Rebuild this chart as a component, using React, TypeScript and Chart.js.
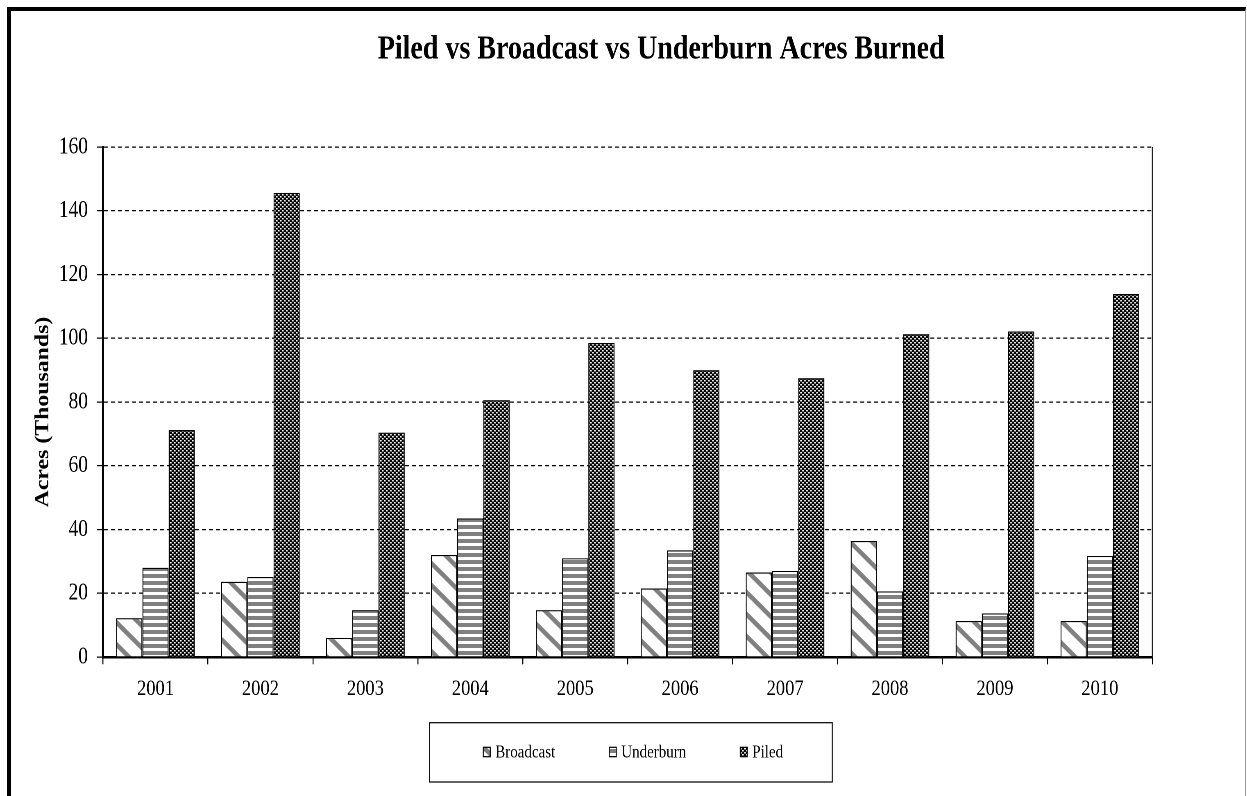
import React, { useEffect, useRef } from 'react';
import { Chart, registerables } from 'chart.js';

Chart.register(...registerables);

// ---- data ----
const years = ['2001', '2002', '2003', '2004', '2005', '2006', '2007', '2008', '2009', '2010'];
const broadcast = [12.2, 23.6, 6.0, 32.0, 14.7, 21.5, 26.5, 36.4, 11.3, 11.3];
const underburn = [28.0, 25.1, 14.7, 43.5, 31.0, 33.5, 27.0, 20.6, 13.7, 31.7];
const piled = [71.2, 145.6, 70.4, 80.6, 98.5, 90.0, 87.5, 101.3, 102.1, 113.9];
const seriesLabels = ['Broadcast', 'Underburn', 'Piled'];
const yMin = 0;
const yMax = 160;
const yStep = 20;
const chartTitle = 'Piled vs Broadcast vs Underburn Acres Burned';
const yAxisTitle = 'Acres (Thousands)';

// ---- geometry (the original picture is stretched vertically) ----
const W = 1247;
const H_DISPLAY = 796;
const H = 652;
const S = H_DISPLAY / H;
const FONT = '"Liberation Serif", "Times New Roman", serif';

function finishPattern(c: HTMLCanvasElement): CanvasPattern | string {
  const ctx = c.getContext('2d');
  if (!ctx) return '#888';
  const p = ctx.createPattern(c, 'repeat');
  if (!p) return '#888';
  try {
    p.setTransform(new DOMMatrix([0.5, 0, 0, 0.5 / S, 0, 0]));
  } catch (e) {
    /* ignore */
  }
  return p;
}

function diagonalPattern() {
  const c = document.createElement('canvas');
  const n = 44;
  c.width = n;
  c.height = n;
  const ctx = c.getContext('2d')!;
  ctx.fillStyle = '#ffffff';
  ctx.fillRect(0, 0, n, n);
  ctx.strokeStyle = '#808080';
  ctx.lineWidth = 9;
  for (const x0 of [-n, 0, n]) {
    ctx.beginPath();
    ctx.moveTo(x0 - 4, -4);
    ctx.lineTo(x0 + n + 4, n + 4);
    ctx.stroke();
  }
  return finishPattern(c);
}

function horizontalPattern() {
  const c = document.createElement('canvas');
  c.width = 4;
  c.height = 14;
  const ctx = c.getContext('2d')!;
  ctx.fillStyle = '#ffffff';
  ctx.fillRect(0, 0, 4, 14);
  ctx.fillStyle = '#808080';
  ctx.fillRect(0, 0, 4, 8);
  return finishPattern(c);
}

function checkPattern() {
  const c = document.createElement('canvas');
  c.width = 8;
  c.height = 8;
  const ctx = c.getContext('2d')!;
  ctx.fillStyle = '#000000';
  ctx.fillRect(0, 0, 8, 8);
  ctx.fillStyle = '#ffffff';
  ctx.fillRect(0, 0, 3, 3);
  ctx.fillRect(4, 4, 3, 3);
  return finishPattern(c);
}

const decorPlugin = {
  id: 'decor',
  afterDraw(chart: any) {
    const { ctx, chartArea } = chart;
    ctx.save();
    // right edge of plot area
    ctx.strokeStyle = '#222';
    ctx.lineWidth = 1;
    ctx.beginPath();
    ctx.moveTo(chartArea.right, chartArea.top);
    ctx.lineTo(chartArea.right, chartArea.bottom);
    ctx.stroke();

    // title
    ctx.fillStyle = '#000';
    ctx.font = `bold 28px ${FONT}`;
    ctx.textAlign = 'center';
    ctx.textBaseline = 'alphabetic';
    ctx.fillText(chartTitle, 661, 58.3 / S);

    // y axis title
    ctx.save();
    ctx.translate(43.5, 412 / S);
    ctx.rotate(-Math.PI / 2);
    ctx.font = `bold 19.5px ${FONT}`;
    ctx.textAlign = 'center';
    ctx.textBaseline = 'middle';
    ctx.fillText(yAxisTitle, 0, 0);
    ctx.restore();

    // legend box
    const boxL = 429.5;
    const boxR = 832;
    const boxT = 722.7 / S;
    const boxB = 782 / S;
    ctx.strokeStyle = '#000';
    ctx.lineWidth = 1;
    ctx.strokeRect(boxL, boxT, boxR - boxL, boxB - boxT);

    ctx.font = `15px ${FONT}`;
    ctx.textAlign = 'left';
    ctx.textBaseline = 'alphabetic';
    const gap = 54;
    const iconW = 7;
    const iconGap = 5;
    const items = chart.data.datasets.map((ds: any) => ({
      ds,
      w: iconW + iconGap + ctx.measureText(ds.label).width,
    }));
    const total = items.reduce((a: number, it: any) => a + it.w, 0) + gap * (items.length - 1);
    let x = 633 - total / 2;
    const iconTop = 747.3 / S;
    const iconH = 9.4 / S;
    const baseline = 757.3 / S;
    for (const it of items) {
      ctx.fillStyle = it.ds.backgroundColor;
      ctx.fillRect(x, iconTop, iconW, iconH);
      ctx.strokeStyle = '#000';
      ctx.strokeRect(x, iconTop, iconW, iconH);
      ctx.fillStyle = '#000';
      ctx.fillText(it.ds.label, x + iconW + iconGap, baseline);
      x += it.w + gap;
    }
    ctx.restore();
  },
};

export default function App() {
  const ref = useRef<HTMLCanvasElement>(null);

  useEffect(() => {
    const canvas = ref.current;
    if (!canvas) return;
    Chart.defaults.font.family = FONT;
    Chart.defaults.color = '#000';

    const patterns = [diagonalPattern(), horizontalPattern(), checkPattern()];
    const values = [broadcast, underburn, piled];

    const chart = new Chart(canvas, {
      type: 'bar',
      data: {
        labels: years,
        datasets: seriesLabels.map((label, i) => ({
          label,
          data: values[i],
          backgroundColor: patterns[i] as any,
          borderColor: '#000',
          borderWidth: 1,
          categoryPercentage: 0.75,
          barPercentage: 1,
        })),
      },
      options: {
        responsive: false,
        animation: false,
        devicePixelRatio: 2 * S,
        layout: {
          padding: { left: 20, right: W - 1152, top: 147 / S, bottom: H - 657 / S - 40 },
        },
        plugins: {
          legend: { display: false },
          title: { display: false },
          tooltip: { enabled: false },
        },
        scales: {
          x: {
            offset: true,
            afterFit: (scale: any) => {
              scale.height = 40;
            },
            grid: {
              display: true,
              offset: true,
              drawOnChartArea: false,
              drawTicks: true,
              tickLength: 6,
              tickColor: '#000',
              tickWidth: 1,
            },
            border: { display: true, color: '#000', width: 2 },
            ticks: {
              padding: 9,
              color: '#000',
              font: { family: FONT, size: 18.5 },
              maxRotation: 0,
            },
          },
          y: {
            min: yMin,
            max: yMax,
            afterFit: (scale: any) => {
              scale.width = 83;
            },
            ticks: {
              stepSize: yStep,
              padding: 9,
              color: '#000',
              font: { family: FONT, size: 19.5 },
            },
            grid: {
              color: '#000',
              lineWidth: 1,
              tickLength: 6,
              tickColor: '#000',
              tickWidth: 1,
              tickBorderDash: [],
            },
            border: { display: true, color: '#000', width: 2, dash: [4, 3] },
          },
        },
      },
      plugins: [decorPlugin],
    });

    return () => {
      chart.destroy();
    };
  }, []);

  return (
    <div
      style={{
        position: 'fixed',
        left: 0,
        top: 0,
        width: W,
        height: H_DISPLAY,
        overflow: 'hidden',
        background: '#fff',
      }}
    >
      <div
        style={{
          position: 'absolute',
          left: 7,
          top: 7,
          width: 1239,
          height: 900,
          boxSizing: 'border-box',
          borderTop: '4px solid #000',
          borderLeft: '4px solid #000',
          borderRight: '1px solid #999',
        }}
      />
      <canvas
        ref={ref}
        width={W}
        height={H}
        style={{ position: 'absolute', left: 0, top: 0, width: `${W}px`, height: `${H_DISPLAY}px` }}
      />
    </div>
  );
}
